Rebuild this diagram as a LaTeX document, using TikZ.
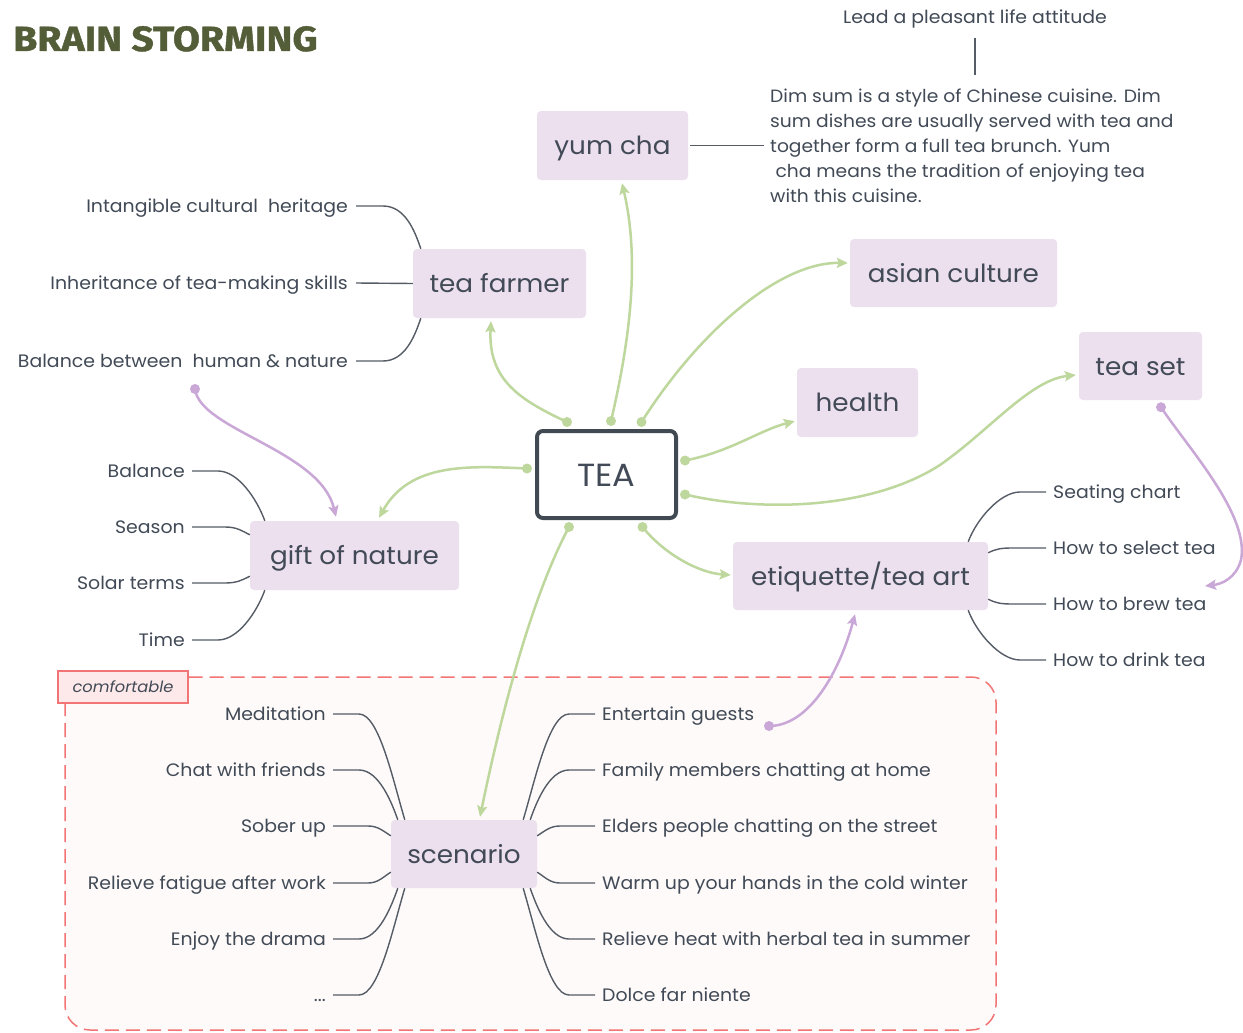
\documentclass[tikz,border=0pt]{standalone}
\usepackage{fontspec}
\setmainfont{Poppins}[FakeStretch=1.05]
\newfontfamily\titlefont{Fira Sans}[FakeStretch=1.12,FakeBold=1.2]
\usetikzlibrary{arrows.meta,calc}

\definecolor{ink}{HTML}{414A56}
\definecolor{frame}{HTML}{414A52}
\definecolor{topicfill}{HTML}{ECDFEE}
\definecolor{linkgreen}{HTML}{BDD79C}
\definecolor{relpurple}{HTML}{C9A7D7}
\definecolor{zonered}{HTML}{F27474}
\definecolor{zonefill}{HTML}{FDFAF9}
\definecolor{tagfill}{HTML}{FDE9E9}
\definecolor{titlegreen}{HTML}{535D38}
\definecolor{lineink}{HTML}{555C66}

\begin{document}
\begin{tikzpicture}[x=1pt,y=-1pt,
  topic/.style={fill=topicfill, rounded corners=4pt, text=ink, inner sep=0pt,
    font=\fontsize{25}{30}\selectfont, text height=18.5pt, text depth=0pt},
  leaf/.style={text=ink, inner sep=0pt, font=\fontsize{18}{21}\selectfont,
    text height=13.6pt, text depth=0pt},
  branch/.style={draw=lineink, line width=1.4pt},
  link/.style={draw=linkgreen, line width=2.5pt, -{Stealth[length=11pt,width=10pt,inset=2pt]}},
  rel/.style={draw=relpurple, line width=2.5pt, -{Stealth[length=11pt,width=10pt,inset=2pt]}},
  gdot/.style={fill=linkgreen},
  pdot/.style={fill=relpurple},
]
\useasboundingbox (0,0) rectangle (1243,1033);
\fill[white] (0,0) rectangle (1243,1033);

% title
\node[anchor=base west, inner sep=0pt, text=titlegreen,
  font=\titlefont\bfseries\fontsize{35}{40}\selectfont] (title) at (13,51) {BRAIN STORMING};

% boundary around the scenarios
\draw[zonered, fill=zonefill, line width=1.5pt, dash pattern=on 14pt off 7pt, rounded corners=25pt]
  (65,677) rectangle (996,1030);
\node[draw=zonered, fill=tagfill, line width=1.5pt, minimum width=130pt, minimum height=32pt,
  inner sep=0pt, text=ink, font=\itshape\fontsize{15.5}{18}\selectfont,
  text height=11pt, text depth=0pt] (tag) at (123,687) {comfortable};

% central topic
\node[draw=frame, line width=4pt, rounded corners=6pt, fill=white, minimum width=139pt,
  minimum height=87pt, inner sep=0pt, text=ink, font=\fontsize{32}{36}\selectfont,
  text height=24.6pt, text depth=0pt] (tea) at (606.5,474.5) {TEA};

% main topics
\node[topic, minimum width=151pt, minimum height=69pt] (yc) at (612.5,145.5) {yum cha};
\node[topic, minimum width=173pt, minimum height=69pt] (tf) at (499.5,283.5) {tea farmer};
\node[topic, minimum width=207pt, minimum height=68pt] (ac) at (953.5,273) {asian culture};
\node[topic, minimum width=121pt, minimum height=69pt] (hl) at (857.5,402.5) {health};
\node[topic, minimum width=123pt, minimum height=68pt] (ts) at (1140.5,366) {tea set};
\node[topic, minimum width=209pt, minimum height=69pt] (gn) at (354.5,555.5) {gift of nature};
\node[topic, minimum width=255pt, minimum height=68pt] (et) at (860.5,576) {etiquette/tea art};
\node[topic, minimum width=146pt, minimum height=68pt] (sc) at (464,854) {scenario};

% note on yum cha and its summary
\node[text=ink, inner sep=0pt, align=left, anchor=north west,
  font=\fontsize{17.8}{25}\selectfont] (note) at (770,89)
  {Dim sum is a style of Chinese cuisine. Dim\\
   sum dishes are usually served with tea and\\
   together form a full tea brunch. Yum\\
   \hspace*{0.3em}cha means the tradition of enjoying tea\\
   with this cuisine.};
\node[leaf] (lead) at (975,17) {Lead a pleasant life attitude};
\draw[branch] ($(yc.east)+(2,0)$) -- ++(74,0);
\draw[branch] (975,38) -- (975,75);

% tea farmer leaves
\node[leaf, anchor=east] (tf1) at (348,206) {Intangible cultural\ \ heritage};
\node[leaf, anchor=east] (tf2) at (348,283) {Inheritance of tea-making skills};
\node[leaf, anchor=east] (tf3) at (348,361) {Balance between\ \ human \& nature};
\draw[branch] ($(tf1.east)+(8,0)$) -- ++(27,0) .. controls +(22,0) and +(-6,-18) .. ($(tf.north west)+(8,0)$);
\draw[branch] ($(tf2.east)+(8,0)$) -- (tf.west);
\draw[branch] ($(tf3.east)+(8,0)$) -- ++(27,0) .. controls +(22,0) and +(-6,18) .. ($(tf.south west)+(8,0)$);

% gift of nature leaves
\node[leaf, anchor=east] (gn1) at (185,471) {Balance};
\node[leaf, anchor=east] (gn2) at (185,527) {Season};
\node[leaf, anchor=east] (gn3) at (185,583) {Solar terms};
\node[leaf, anchor=east] (gn4) at (185,640) {Time};
\draw[branch] ($(gn1.east)+(7,0)$) -- ++(26,0) .. controls +(20,0) and +(-8,-22) .. ($(gn.north west)+(15,0)$);
\draw[branch] ($(gn2.east)+(7,0)$) -- ++(33,0) .. controls +(12,0) and +(-8,-4) .. ($(gn.north west)+(0,14)$);
\draw[branch] ($(gn3.east)+(7,0)$) -- ++(33,0) .. controls +(12,0) and +(-8,4) .. ($(gn.south west)+(0,-14)$);
\draw[branch] ($(gn4.east)+(7,0)$) -- ++(26,0) .. controls +(20,0) and +(-8,22) .. ($(gn.south west)+(15,0)$);

% etiquette leaves
\node[leaf, anchor=west] (et1) at (1053,492) {Seating chart};
\node[leaf, anchor=west] (et2) at (1053,548) {How to select tea};
\node[leaf, anchor=west] (et3) at (1053,604) {How to brew tea};
\node[leaf, anchor=west] (et4) at (1053,660) {How to drink tea};
\draw[branch] ($(et.north east)+(-20,0)$) .. controls +(8,-22) and +(-20,0) .. ($(et1.west)+(-33,0)$) -- ($(et1.west)+(-7,0)$);
\draw[branch] ($(et.north east)+(0,11)$) .. controls +(8,-4) and +(-12,0) .. ($(et2.west)+(-40,0)$) -- ($(et2.west)+(-7,0)$);
\draw[branch] ($(et.south east)+(0,-11)$) .. controls +(8,4) and +(-12,0) .. ($(et3.west)+(-40,0)$) -- ($(et3.west)+(-7,0)$);
\draw[branch] ($(et.south east)+(-20,0)$) .. controls +(8,22) and +(-20,0) .. ($(et4.west)+(-33,0)$) -- ($(et4.west)+(-7,0)$);

% scenario leaves, left side
\node[leaf, anchor=east] (sl1) at (326,714) {Meditation};
\node[leaf, anchor=east] (sl2) at (326,770) {Chat with friends};
\node[leaf, anchor=east] (sl3) at (326,826) {Sober up};
\node[leaf, anchor=east] (sl4) at (326,883) {Relieve fatigue after work};
\node[leaf, anchor=east] (sl5) at (326,939) {Enjoy the drama};
\node[leaf, anchor=east] (sl6) at (326,995) {...};
\draw[branch] ($(sl1.east)+(7,0)$) -- ++(26,0) .. controls +(20,0) and +(-12,-40) .. ($(sc.north west)+(14,0)$);
\draw[branch] ($(sl2.east)+(7,0)$) -- ++(26,0) .. controls +(20,0) and +(-6,-17) .. ($(sc.north west)+(7,0)$);
\draw[branch] ($(sl3.east)+(7,0)$) -- ++(35,0) .. controls +(10,0) and +(-8,-5) .. ($(sc.north west)+(0,16)$);
\draw[branch] ($(sl4.east)+(7,0)$) -- ++(35,0) .. controls +(10,0) and +(-8,5) .. ($(sc.south west)+(0,-16)$);
\draw[branch] ($(sl5.east)+(7,0)$) -- ++(26,0) .. controls +(20,0) and +(-6,17) .. ($(sc.south west)+(7,0)$);
\draw[branch] ($(sl6.east)+(7,0)$) -- ++(26,0) .. controls +(20,0) and +(-12,40) .. ($(sc.south west)+(14,0)$);

% scenario leaves, right side
\node[leaf, anchor=west] (sr1) at (602,714) {Entertain guests};
\node[leaf, anchor=west] (sr2) at (602,770) {Family members chatting at home};
\node[leaf, anchor=west] (sr3) at (602,826) {Elders people chatting on the street};
\node[leaf, anchor=west] (sr4) at (602,883) {Warm up your hands in the cold winter};
\node[leaf, anchor=west] (sr5) at (602,939) {Relieve heat with herbal tea in summer};
\node[leaf, anchor=west] (sr6) at (602,995) {Dolce far niente};
\draw[branch] ($(sc.north east)+(-14,0)$) .. controls +(12,-40) and +(-20,0) .. ($(sr1.west)+(-33,0)$) -- ($(sr1.west)+(-7,0)$);
\draw[branch] ($(sc.north east)+(-7,0)$) .. controls +(6,-17) and +(-20,0) .. ($(sr2.west)+(-33,0)$) -- ($(sr2.west)+(-7,0)$);
\draw[branch] ($(sc.north east)+(0,16)$) .. controls +(8,-5) and +(-10,0) .. ($(sr3.west)+(-42,0)$) -- ($(sr3.west)+(-7,0)$);
\draw[branch] ($(sc.south east)+(0,-16)$) .. controls +(8,5) and +(-10,0) .. ($(sr4.west)+(-42,0)$) -- ($(sr4.west)+(-7,0)$);
\draw[branch] ($(sc.south east)+(-7,0)$) .. controls +(6,17) and +(-20,0) .. ($(sr5.west)+(-33,0)$) -- ($(sr5.west)+(-7,0)$);
\draw[branch] ($(sc.south east)+(-14,0)$) .. controls +(12,40) and +(-20,0) .. ($(sr6.west)+(-33,0)$) -- ($(sr6.west)+(-7,0)$);

% connection points on the central topic
\coordinate (o-tf) at ($(tea.north)+(-39.5,-7)$);
\coordinate (o-yc) at ($(tea.north)+(4.5,-8)$);
\coordinate (o-ac) at ($(tea.north)+(35,-7)$);
\coordinate (o-hl) at ($(tea.east)+(7,-14)$);
\coordinate (o-ts) at ($(tea.east)+(7,20)$);
\coordinate (o-gn) at ($(tea.west)+(-8,-6)$);
\coordinate (o-et) at ($(tea.south)+(36,7)$);
\coordinate (o-sc) at ($(tea.south)+(-37.5,7)$);

% links from the central topic
\draw[link] (o-tf) .. controls (520,400) and (488,380) .. ($(tf.south)+(-8.5,3)$);
\draw[link] (o-yc) .. controls (630,340) and (640,260) .. ($(yc.south)+(9.5,3)$);
\draw[link] (o-ac) .. controls (700,330) and (780,262) .. ($(ac.west)+(-2,-10)$);
\draw[link] (o-hl) .. controls (730,452) and (760,430) .. ($(hl.south west)+(-2,-16)$);
\draw[link] (o-ts) .. controls (760,512) and (870,510) .. (940,465) .. controls (990,430) and (1030,380) .. ($(ts.west)+(-3,9)$);
\draw[link] (o-gn) .. controls (470,466) and (410,462) .. ($(gn.north)+(24.5,-3)$);
\draw[link] (o-et) .. controls (665,555) and (700,573) .. ($(et.west)+(-2,-1)$);
\draw[link] (o-sc) .. controls (530,600) and (500,720) .. ($(sc.north)+(16,-3)$);
\foreach \p in {o-tf,o-yc,o-ac,o-hl,o-ts,o-gn,o-et,o-sc}
  \fill[gdot] (\p) circle (5pt);

% relationships
\coordinate (r-bal) at (195,389);
\coordinate (r-set) at ($(ts.south)+(20.5,7)$);
\coordinate (r-brew) at (1205,586);
\coordinate (r-guest) at (769,726);
\draw[rel] (r-bal) .. controls (200,430) and (320,450) .. ($(gn.north)+(-18.5,-4)$);
\draw[rel] (r-set) .. controls (1188,448) and (1250,515) .. (1241,560) .. controls (1236,578) and (1222,584) .. (r-brew);
\draw[rel] (r-guest) .. controls (810,726) and (840,670) .. ($(et.south)+(-5.5,4)$);
\foreach \p in {r-bal,r-set,r-guest}
  \fill[pdot] (\p) circle (5pt);

\end{tikzpicture}
\end{document}
